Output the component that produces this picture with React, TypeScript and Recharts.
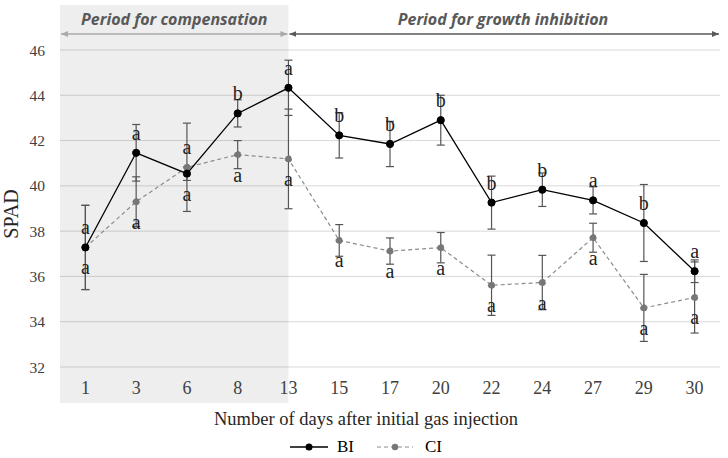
import React from 'react';
import { LineChart, Line, XAxis, YAxis, CartesianGrid, ErrorBar, LabelList, ReferenceArea, Legend } from 'recharts';

const days = ['1', '3', '6', '8', '13', '15', '17', '20', '22', '24', '27', '29', '30'];
const biValues = [37.28, 41.46, 40.54, 43.2, 44.33, 42.23, 41.85, 42.9, 39.26, 39.83, 39.36, 38.36, 36.23];
const ciValues = [37.28, 39.3, 40.82, 41.38, 41.19, 37.59, 37.12, 37.27, 35.61, 35.73, 37.71, 34.61, 35.07];
const biErrors = [1.86, 1.25, 0.3, 0.6, 1.22, 1.0, 1.0, 1.1, 1.17, 0.74, 0.6, 1.7, 0.5];
const ciErrors = [1.86, 1.1, 1.95, 0.62, 2.2, 0.7, 0.58, 0.67, 1.33, 1.2, 0.64, 1.48, 1.57];
const biLetters = ['a', 'a', 'a', 'b', 'a', 'b', 'b', 'b', 'b', 'b', 'a', 'b', 'a'];
const ciLetters = ['a', 'a', 'a', 'a', 'a', 'a', 'a', 'a', 'a', 'a', 'a', 'a', 'a'];
const yTicks = [32, 34, 36, 38, 40, 42, 44, 46];
const compensationEndIndex = 4; // day 13

const data = days.map((d, i) => ({
  i,
  day: d,
  bi: biValues[i],
  ci: ciValues[i],
  biErr: biErrors[i],
  ciErr: ciErrors[i],
  biLetter: biLetters[i],
  ciLetter: ciLetters[i],
}));

const W = 728;
const H = 458;
const PLOT_LEFT = 60;
const PLOT_RIGHT = 720;
const unit = (PLOT_RIGHT - PLOT_LEFT) / days.length;
const xOfIndex = (i: number) => PLOT_LEFT + (i + 0.5) * unit;

const SERIF = '"Liberation Serif", "Times New Roman", serif';
const SANS = '"Open Sans", "Noto Sans", sans-serif';

const makeLetter = (series: 'bi' | 'ci') => (props: any) => {
  const { x, y, index, value } = props;
  const mine = series === 'bi' ? biValues[index] : ciValues[index];
  const other = series === 'bi' ? ciValues[index] : biValues[index];
  const above = series === 'bi' ? mine >= other : mine > other;
  return (
    <text
      x={x}
      y={above ? y - 13 : y + 27}
      textAnchor="middle"
      fontFamily={SERIF}
      fontSize={20}
      fill="#1f1f1f"
    >
      {value}
    </text>
  );
};

const renderLegend = () => (
  <div
    style={{
      display: 'flex',
      justifyContent: 'center',
      alignItems: 'center',
      height: 20,
      fontFamily: SERIF,
      fontSize: 17,
      color: '#000',
    }}
  >
    <svg width={38} height={10} style={{ display: 'block' }}>
      <line x1={0} y1={5} x2={38} y2={5} stroke="#000" strokeWidth={1.3} />
      <circle cx={19} cy={5} r={3.5} fill="#000" />
    </svg>
    <span style={{ marginLeft: 9 }}>BI</span>
    <svg width={36} height={10} style={{ display: 'block', marginLeft: 23 }}>
      <line x1={0} y1={5} x2={36} y2={5} stroke="#8c8c8c" strokeWidth={1.2} strokeDasharray="4 3" />
      <circle cx={18} cy={5} r={3.2} fill="#777" />
    </svg>
    <span style={{ marginLeft: 12 }}>CI</span>
  </div>
);

export default function App() {
  const arrowY = 34;
  const splitX = xOfIndex(compensationEndIndex);
  return (
    <div style={{ position: 'absolute', left: 0, top: 0, width: W, height: H, background: '#fff' }}>
      <LineChart
        width={W}
        height={H}
        data={data}
        margin={{ top: 50, right: 8, bottom: 1, left: 0 }}
      >
        <CartesianGrid horizontal vertical={false} stroke="#d9d9d9" strokeWidth={1} />
        <ReferenceArea
          x1={-0.5}
          x2={compensationEndIndex}
          y1={30.41}
          y2={47.99}
          ifOverflow="visible"
          fill="#000"
          fillOpacity={0.068}
          stroke="none"
        />
        <XAxis
          type="number"
          dataKey="i"
          domain={[-0.5, days.length - 0.5]}
          ticks={days.map((_, i) => i)}
          tickFormatter={(v: number) => days[v]}
          axisLine={false}
          tickLine={false}
          tickSize={6}
          tickMargin={8}
          height={70}
          tick={{ fontFamily: SERIF, fontSize: 18, fill: '#404040' }}
          interval={0}
        />
        <YAxis
          type="number"
          domain={[32, 46]}
          ticks={yTicks}
          axisLine={false}
          tickLine={false}
          tickSize={6}
          tickMargin={9}
          width={60}
          tick={{ fontFamily: SERIF, fontSize: 15.5, fill: '#404040' }}
          interval={0}
        />
        <Legend
          verticalAlign="bottom"
          content={renderLegend}
          wrapperStyle={{ left: 0, width: 732 }}
        />
        <Line
          dataKey="ci"
          name="CI"
          stroke="#8c8c8c"
          strokeWidth={1.2}
          strokeDasharray="4 3"
          dot={{ r: 3.2, fill: '#777', stroke: '#777', strokeWidth: 1 }}
          isAnimationActive={false}
        >
          <ErrorBar dataKey="ciErr" direction="y" width={4} stroke="#555" strokeWidth={1.2} />
          <LabelList dataKey="ciLetter" content={makeLetter('ci')} />
        </Line>
        <Line
          dataKey="bi"
          name="BI"
          stroke="#000"
          strokeWidth={1.3}
          dot={{ r: 3.6, fill: '#000', stroke: '#000', strokeWidth: 1 }}
          isAnimationActive={false}
        >
          <ErrorBar dataKey="biErr" direction="y" width={4} stroke="#555" strokeWidth={1.2} />
          <LabelList dataKey="biLetter" content={makeLetter('bi')} />
        </Line>
      </LineChart>
      <svg
        width={W}
        height={H}
        style={{ position: 'absolute', left: 0, top: 0, pointerEvents: 'none' }}
      >
        <defs>
          <marker id="hl" markerWidth="8" markerHeight="8" refX="7" refY="4" orient="auto-start-reverse" markerUnits="userSpaceOnUse">
            <path d="M0,1 L7,4 L0,7 Z" fill="#aaaaaa" />
          </marker>
          <marker id="hd" markerWidth="8" markerHeight="8" refX="7" refY="4" orient="auto-start-reverse" markerUnits="userSpaceOnUse">
            <path d="M0,1 L7,4 L0,7 Z" fill="#595959" />
          </marker>
        </defs>
        <line
          x1={PLOT_LEFT + 1}
          y1={arrowY}
          x2={splitX - 1}
          y2={arrowY}
          stroke="#aaaaaa"
          strokeWidth={1.5}
          markerStart="url(#hl)"
          markerEnd="url(#hl)"
        />
        <line
          x1={splitX + 1}
          y1={arrowY}
          x2={PLOT_RIGHT - 1}
          y2={arrowY}
          stroke="#595959"
          strokeWidth={1.5}
          markerStart="url(#hd)"
          markerEnd="url(#hd)"
        />
        <text
          x={(PLOT_LEFT + splitX) / 2}
          y={25}
          textAnchor="middle"
          fontFamily={SANS}
          fontWeight="bold"
          fontStyle="italic"
          fontSize={16}
          fill="#595959"
        >
          Period for compensation
        </text>
        <text
          x={503}
          y={25}
          textAnchor="middle"
          fontFamily={SANS}
          fontWeight="bold"
          fontStyle="italic"
          fontSize={16}
          fill="#595959"
        >
          Period for growth inhibition
        </text>
        <text
          x={366}
          y={425}
          textAnchor="middle"
          fontFamily={SERIF}
          fontSize={18.5}
          fill="#262626"
        >
          Number of days after initial gas injection
        </text>
        <text
          x={0}
          y={0}
          transform="translate(18,214) rotate(-90)"
          textAnchor="middle"
          fontFamily={SERIF}
          fontSize={20}
          fill="#262626"
        >
          SPAD
        </text>
      </svg>
    </div>
  );
}
